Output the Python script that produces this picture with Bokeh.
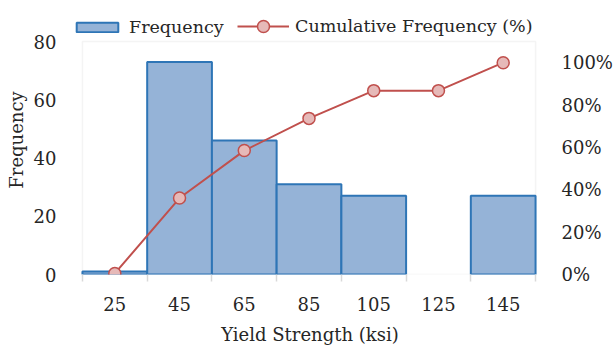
from bokeh.plotting import figure
from bokeh.models import (Range1d, LinearAxis, FixedTicker, NumeralTickFormatter,
                          Legend, LegendItem, ColumnDataSource, BoxAnnotation)
from bokeh.embed import file_html
from bokeh.resources import INLINE

# Yield strength histogram data
bins = ["25", "45", "65", "85", "105", "125", "145"]
frequency = [1, 73, 46, 31, 27, 0, 27]
cumulative_pct = [0.5, 36.1, 58.5, 73.7, 86.8, 86.8, 100.0]
freq_ticks = [0, 20, 40, 60, 80]
pct_ticks = [0, 20, 40, 60, 80, 100]
FREQ_MAX = 80
PCT_MAX = 110

FONT = "DejaVu Serif"
FONT_SIZE = "18px"
TEXT = "#262626"
GRID_GRAY = "#D9D9D9"
BAR_FILL = "#95B3D7"
BAR_EDGE = "#2E75B6"
LINE_RED = "#C0504D"
MARKER_FILL = "#E6B9B8"

# Page layout in pixels.  The drawing area is a little larger than the
# boxed plot area so the legend above it is not clipped.
W, H = 615, 347
BOX_L, BOX_R, BOX_T, BOX_B = 82, 537, 41, 274
FRAME_L, FRAME_R, FRAME_T = 71, 550, 5

n = len(bins)
px_per_bin = (BOX_R - BOX_L) / n
box_h = BOX_B - BOX_T
frame_h = BOX_B - FRAME_T
x_start = -(BOX_L - FRAME_L) / px_per_bin
x_end = n + (FRAME_R - BOX_R) / px_per_bin

centers = [i + 0.5 for i in range(n)]

p = figure(width=W, height=H, output_backend="svg", toolbar_location=None,
           x_range=Range1d(x_start, x_end),
           y_range=Range1d(0, FREQ_MAX * frame_h / box_h),
           min_border_left=FRAME_L, min_border_right=W - FRAME_R,
           min_border_top=FRAME_T, min_border_bottom=H - BOX_B)
p.extra_y_ranges = {"pct": Range1d(0, PCT_MAX * frame_h / box_h)}
p.xgrid.visible = False
p.ygrid.visible = False
p.outline_line_color = None
p.background_fill_color = "white"
p.border_fill_color = "white"

# light gray plot box
p.add_layout(BoxAnnotation(left=0, right=n, bottom=0, top=FREQ_MAX,
                           fill_alpha=0, line_color=GRID_GRAY, line_width=1.5,
                           level="underlay"))

# bars (empty bins are left undrawn)
bar_src = ColumnDataSource(dict(
    x=[c for c, f in zip(centers, frequency) if f > 0],
    top=[f for f in frequency if f > 0]))
bars = p.vbar(x="x", top="top", width=1.0, source=bar_src,
              fill_color=BAR_FILL, line_color=BAR_EDGE, line_width=2)

# cumulative percentage line on the secondary axis
cum_src = ColumnDataSource(dict(x=centers, y=cumulative_pct))
cum_line = p.line("x", "y", source=cum_src, y_range_name="pct",
                  line_color=LINE_RED, line_width=2)
cum_pts = p.scatter("x", "y", source=cum_src, y_range_name="pct", size=12,
                    fill_color=MARKER_FILL, line_color=LINE_RED, line_width=1.5)

# x axis: labels at bin centers, tick marks at bin edges
xax = p.xaxis[0]
xax.ticker = FixedTicker(ticks=centers, minor_ticks=list(range(n + 1)))
xax.major_label_overrides = {c: b for c, b in zip(centers, bins)}
xax.major_tick_out = 0
xax.major_tick_in = 0
xax.minor_tick_out = 7
xax.minor_tick_in = 0
xax.minor_tick_line_color = GRID_GRAY
xax.minor_tick_line_width = 1.5
xax.axis_line_color = None
xax.major_label_standoff = 15
xax.axis_label = "Yield Strength (ksi)"
xax.axis_label_standoff = 10

# left axis: frequency
yax = p.yaxis[0]
yax.ticker = FixedTicker(ticks=freq_ticks)
yax.axis_line_color = None
yax.major_tick_line_color = None
yax.minor_tick_line_color = None
yax.major_label_standoff = 9
yax.axis_label = "Frequency"
yax.axis_label_standoff = 4

# right axis: cumulative percent
rax = LinearAxis(y_range_name="pct", ticker=FixedTicker(ticks=pct_ticks),
                 formatter=NumeralTickFormatter(format="0"))
rax.major_label_overrides = {v: f"{v}%" for v in pct_ticks}
rax.axis_line_color = None
rax.major_tick_line_color = None
rax.minor_tick_line_color = None
rax.major_label_standoff = 7
p.add_layout(rax, "right")

for ax in [xax, yax, rax]:
    ax.major_label_text_font = FONT
    ax.major_label_text_font_size = FONT_SIZE
    ax.major_label_text_color = TEXT
    ax.axis_label_text_font = FONT
    ax.axis_label_text_font_size = FONT_SIZE
    ax.axis_label_text_font_style = "normal"
    ax.axis_label_text_color = TEXT

# two legend blocks side by side: a flat swatch for the bars, and a taller
# glyph box for the line so its marker is drawn at full size
LEGEND_STYLE = dict(orientation="horizontal", glyph_width=52, label_standoff=6,
                    padding=0, margin=0, border_line_color=None,
                    background_fill_alpha=0, label_text_font=FONT,
                    label_text_font_size="17.5px", label_text_color=TEXT)
bar_legend = Legend(items=[LegendItem(label="Frequency", renderers=[bars])],
                    location=(0, 237), glyph_height=12, **LEGEND_STYLE)
line_legend = Legend(items=[LegendItem(label="Cumulative Frequency (%)",
                                       renderers=[cum_line, cum_pts])],
                     location=(166, 233), glyph_height=30, **LEGEND_STYLE)
p.add_layout(bar_legend, "center")
p.add_layout(line_legend, "center")

open("out.html", "w").write(file_html(p, INLINE))
